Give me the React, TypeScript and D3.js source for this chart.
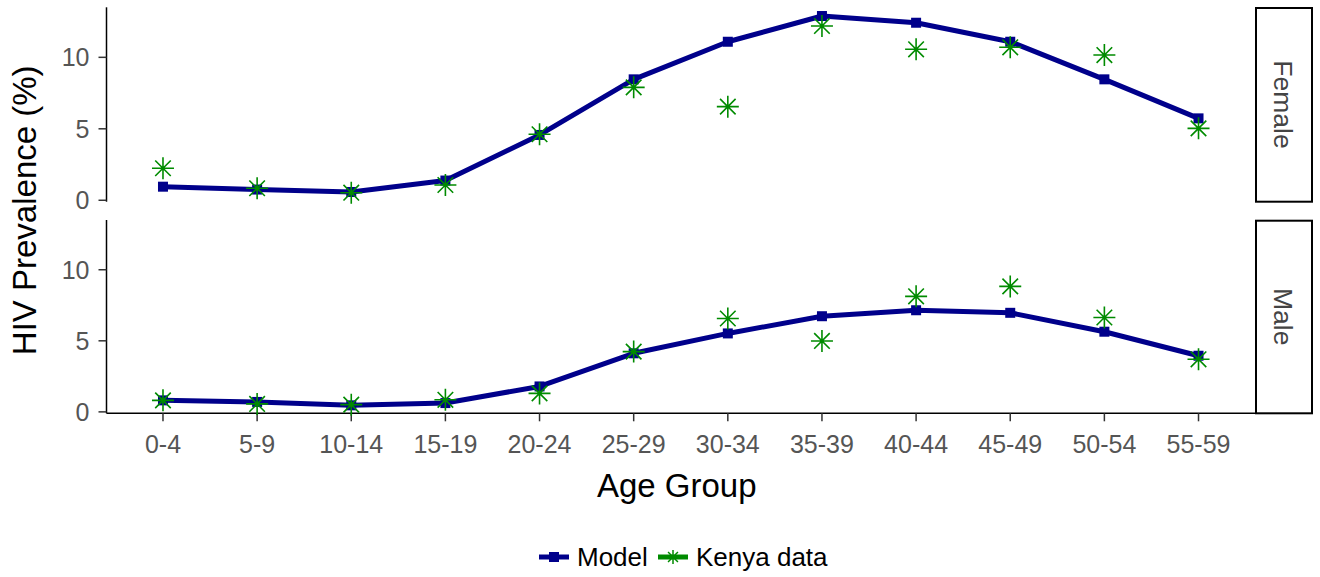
import React from "react";
import * as d3 from "d3";

// Age groups on the x axis
const ageGroups = ["0-4", "5-9", "10-14", "15-19", "20-24", "25-29", "30-34", "35-39", "40-44", "45-49", "50-54", "55-59"];

// HIV prevalence (%) by sex: model output and survey data
const femaleModel = [0.95, 0.75, 0.58, 1.38, 4.57, 8.46, 11.09, 12.89, 12.42, 11.09, 8.46, 5.73];
const femaleData = [2.24, 0.84, 0.53, 1.07, 4.62, 7.9, 6.55, 12.19, 10.56, 10.7, 10.16, 5.03];
const maleModel = [0.81, 0.7, 0.46, 0.62, 1.79, 4.12, 5.52, 6.73, 7.15, 6.97, 5.64, 3.95];
const maleData = [0.81, 0.56, 0.51, 0.85, 1.3, 4.24, 6.57, 4.99, 8.13, 8.83, 6.64, 3.7];

const yTicks = [0, 5, 10];
const panelNames = ["Female", "Male"];
const legendLabels = ["Model", "Kenya data"];

const MODEL_COLOR = "#00008B";
const DATA_COLOR = "#008B00";
const FONT = "'Liberation Sans', Arial, sans-serif";

const W = 1320;
const H = 577;
const plotLeft = 106.5;
const plotRight = 1255;
const panels = [
  { top: 7.3, bottom: 201.7, model: femaleModel, data: femaleData, name: panelNames[0] },
  { top: 220, bottom: 413.3, model: maleModel, data: maleData, name: panelNames[1] },
];

const x = d3.scalePoint<string>().domain(ageGroups).range([plotLeft, plotRight]).padding(0.6);

function starPath(r: number) {
  const parts: string[] = [];
  for (let k = 0; k < 4; k++) {
    const a = (k * Math.PI) / 4;
    const dx = r * Math.cos(a);
    const dy = r * Math.sin(a);
    parts.push(`M${-dx},${-dy}L${dx},${dy}`);
  }
  return parts.join("");
}

const STAR = starPath(11);

function Panel({ p, showX }: { p: typeof panels[number]; showX: boolean }) {
  const y = d3.scaleLinear().domain([-0.1, 13.5]).range([p.bottom, p.top]);
  const line = d3
    .line<number>()
    .x((_, i) => x(ageGroups[i]) as number)
    .y((v) => y(v));
  return (
    <g>
      {/* y axis */}
      <line x1={plotLeft} x2={plotLeft} y1={p.top} y2={p.bottom} stroke="#000" strokeWidth={1.5} />
      {yTicks.map((t) => (
        <g key={t}>
          <line x1={plotLeft - 8} x2={plotLeft} y1={y(t)} y2={y(t)} stroke="#333" strokeWidth={1.5} />
          <text x={plotLeft - 17} y={y(t)} dy="0.36em" textAnchor="end" fontSize={25} fill="#555" fontFamily={FONT}>
            {t}
          </text>
        </g>
      ))}
      {showX && (
        <g>
          <line x1={plotLeft} x2={plotRight} y1={p.bottom} y2={p.bottom} stroke="#000" strokeWidth={1.5} />
          {ageGroups.map((a) => (
            <g key={a}>
              <line x1={x(a)} x2={x(a)} y1={p.bottom} y2={p.bottom + 8} stroke="#333" strokeWidth={1.5} />
              <text x={x(a)} y={p.bottom + 40} textAnchor="middle" fontSize={25} fill="#555" fontFamily={FONT}>
                {a}
              </text>
            </g>
          ))}
        </g>
      )}
      {/* model line with square markers */}
      <path d={line(p.model) ?? ""} fill="none" stroke={MODEL_COLOR} strokeWidth={5} strokeLinejoin="round" />
      {p.model.map((v, i) => (
        <rect key={i} x={(x(ageGroups[i]) as number) - 5} y={y(v) - 5} width={10} height={10} fill={MODEL_COLOR} />
      ))}
      {/* survey points */}
      {p.data.map((v, i) => (
        <path
          key={i}
          transform={`translate(${x(ageGroups[i])},${y(v)})`}
          d={STAR}
          stroke={DATA_COLOR}
          strokeWidth={1.6}
          fill="none"
        />
      ))}
      {/* facet strip */}
      <rect x={1256} y={p.top + 0.7} width={56} height={p.bottom - p.top - 0.7} fill="#fff" stroke="#000" strokeWidth={2} />
      <text
        transform={`translate(${1284},${(p.top + p.bottom) / 2}) rotate(90)`}
        textAnchor="middle"
        dy="0.36em"
        fontSize={26.5}
        fill="#444"
        fontFamily={FONT}
      >
        {p.name}
      </text>
    </g>
  );
}

export default function App() {
  const legendY = 557;
  return (
    <svg width={W} height={H} style={{ position: "absolute", left: 0, top: 0, background: "#fff" }}>
      <rect width={W} height={H} fill="#fff" />
      {panels.map((p, i) => (
        <Panel key={p.name} p={p} showX={i === panels.length - 1} />
      ))}
      {/* axis titles */}
      <text
        transform={`translate(${36},${(panels[0].top + panels[1].bottom) / 2}) rotate(-90)`}
        textAnchor="middle"
        fontSize={33}
        fill="#000"
        fontFamily={FONT}
      >
        HIV Prevalence (%)
      </text>
      <text x={(plotLeft + plotRight) / 2 - 4} y={497} textAnchor="middle" fontSize={33} fill="#000" fontFamily={FONT}>
        Age Group
      </text>
      {/* legend */}
      <g>
        <line x1={539} x2={569} y1={legendY} y2={legendY} stroke={MODEL_COLOR} strokeWidth={5} />
        <rect x={549} y={legendY - 5} width={10} height={10} fill={MODEL_COLOR} />
        <text x={577} y={legendY} dy="0.36em" fontSize={26} fill="#000" fontFamily={FONT}>
          {legendLabels[0]}
        </text>
        <line x1={658} x2={688} y1={legendY} y2={legendY} stroke={DATA_COLOR} strokeWidth={5} />
        <path transform={`translate(673,${legendY})`} d={starPath(7)} stroke={DATA_COLOR} strokeWidth={1.5} fill="none" />
        <text x={696} y={legendY} dy="0.36em" fontSize={26} fill="#000" fontFamily={FONT}>
          {legendLabels[1]}
        </text>
      </g>
    </svg>
  );
}
